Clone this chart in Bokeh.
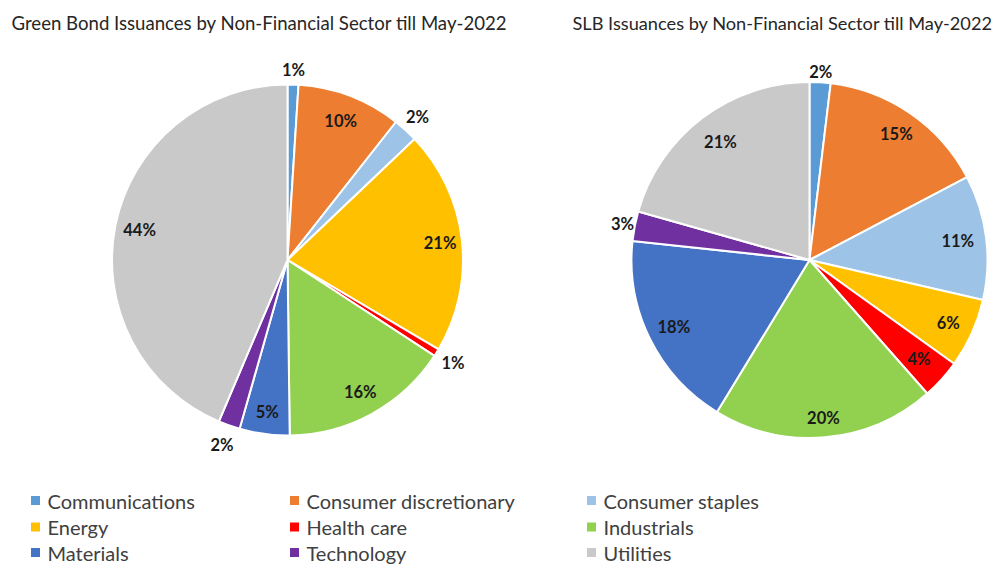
import math
from bokeh.plotting import figure
from bokeh.models import Range1d
from bokeh.core.properties import value
from bokeh.embed import file_html
from bokeh.resources import INLINE

# ---- data ----
sectors = ["Communications", "Consumer discretionary", "Consumer staples",
           "Energy", "Health care", "Industrials",
           "Materials", "Technology", "Utilities"]
colors = ["#5B9BD5", "#ED7D31", "#9DC3E6",
          "#FFC000", "#FF0000", "#92D050",
          "#4472C4", "#7030A0", "#C9C9C9"]
green_bond_pct = [1.0, 9.6, 2.3, 20.6, 0.7, 15.6, 4.6, 2.0, 43.6]
slb_pct = [1.9, 15.4, 11.3, 6.3, 3.6, 20.2, 18.0, 2.7, 20.6]
titles = ["Green Bond Issuances by Non-Financial Sector till May-2022",
          "SLB Issuances by Non-Financial Sector till May-2022"]

# ---- layout (reference pixel coordinates, y measured from top) ----
W, H = 1000, 565
FONT = "Lato"
label_r_left = [1.085, 0.85, 1.10, 0.875, 1.11, 0.86, 0.875, 1.12, 0.86]
label_r_right = [1.06, 0.86, 0.84, 0.855, 0.83, 0.89, 0.85, 1.07, 0.83]

p = figure(width=W, height=H, output_backend="svg", toolbar_location=None,
           x_range=Range1d(0, W), y_range=Range1d(565 - H, 565),
           x_axis_type=None, y_axis_type=None, min_border=0,
           outline_line_color=None, background_fill_color="white",
           border_fill_color="white")
p.grid.visible = False


def Y(py):
    return 565 - py


def draw_pie(vals, cx, cy, r, label_r):
    total = float(sum(vals))
    cum = 0.0
    starts, ends, lx, ly, txt = [], [], [], [], []
    for v, f in zip(vals, label_r):
        a0 = cum / total
        cum += v
        a1 = cum / total
        # clockwise from 12 o'clock
        starts.append(math.pi / 2 - 2 * math.pi * a1)
        ends.append(math.pi / 2 - 2 * math.pi * a0)
        mid = 2 * math.pi * (a0 + a1) / 2
        lx.append(cx + f * r * math.sin(mid))
        ly.append(Y(cy) + f * r * math.cos(mid))
        txt.append(f"{round(v / total * 100):d}%")
    p.wedge(x=[cx] * len(vals), y=[Y(cy)] * len(vals), radius=r,
            start_angle=starts, end_angle=ends, direction="anticlock",
            fill_color=colors, line_color="white", line_width=2)
    p.text(x=lx, y=ly, text=txt, text_align="center", text_baseline="middle",
           text_font=value(FONT), text_font_style="bold",
           text_font_size="16.5px", text_color="#1a1a1a")


draw_pie(green_bond_pct, 287, 259.5, 175.5, label_r_left)
draw_pie(slb_pct, 809, 259.5, 178, label_r_right)

# titles
p.text(x=[11], y=[Y(22)], text=titles[:1], text_align="left",
       text_baseline="middle", text_font=value(FONT), text_font_size="18.6px",
       text_color="#262626")
p.text(x=[572], y=[Y(22)], text=titles[1:], text_align="left",
       text_baseline="middle", text_font=value(FONT), text_font_size="18.2px",
       text_color="#262626")

# legend (3 columns x 3 rows)
col_x = [35, 294, 591]
row_y = [500, 526.5, 552]
mx, my, tx, ty = [], [], [], []
for i, name in enumerate(sectors):
    c = i % 3
    rr = i // 3
    mx.append(col_x[c])
    my.append(Y(row_y[rr]))
    tx.append(col_x[c] + 12)
    ty.append(Y(row_y[rr]))
p.scatter(x=mx, y=my, marker="square", size=9, fill_color=colors,
          line_color=None)
p.text(x=tx, y=ty, text=sectors, text_align="left", text_baseline="middle",
       text_font=value(FONT), text_font_size="20px", text_color="#404040")

open("out.html", "w").write(file_html(p, INLINE))
